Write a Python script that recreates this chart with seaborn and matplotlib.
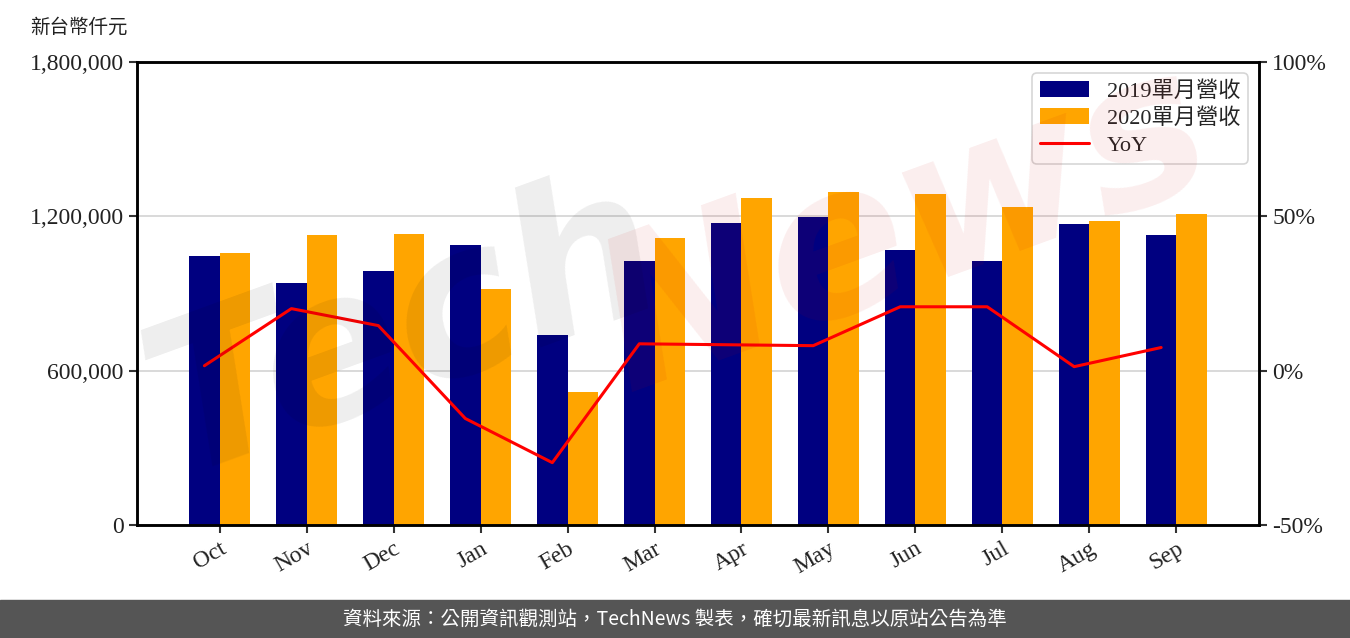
import numpy as np
import pandas as pd
import matplotlib
matplotlib.use("Agg")
import matplotlib.pyplot as plt
import matplotlib.ticker as mticker
import seaborn as sns

# Data
months = ["Oct", "Nov", "Dec", "Jan", "Feb", "Mar", "Apr", "May", "Jun", "Jul", "Aug", "Sep"]
rev_2019 = [1045800, 940800, 987500, 1088500, 738700, 1026300,
            1174100, 1197400, 1069100, 1026300, 1170200, 1127400]
rev_2020 = [1057000, 1127400, 1131300, 917500, 517100, 1115800,
            1271300, 1294600, 1286800, 1236300, 1181900, 1209100]
yoy = [1.6, 20.1, 14.6, -15.5, -29.8, 8.7, 8.4, 8.1, 20.7, 20.7, 1.3, 7.5]
series_labels = ["2019單月營收", "2020單月營收"]

sns.set_theme(style="white")
FONT = ["Liberation Serif", "Noto Sans CJK TC", "DejaVu Sans"]
plt.rcParams["font.family"] = FONT

df = pd.DataFrame({
    "month": months * 2,
    "revenue": rev_2019 + rev_2020,
    "series": [series_labels[0]] * 12 + [series_labels[1]] * 12,
})

fig = plt.figure(figsize=(13.5, 6.38), dpi=100)
ax = fig.add_axes([137 / 1350, 1 - 525 / 638, (1259 - 137) / 1350, (525 - 62) / 638])

sns.barplot(data=df, x="month", y="revenue", hue="series", order=months,
            palette=["#000080", "#FFA500"], width=0.7, saturation=1,
            edgecolor="none", ax=ax, zorder=2)
ax.set_xlim(-0.95, 11.95)
ax.set_ylim(0, 1800000)
ax.set_yticks([0, 600000, 1200000, 1800000])
ax.yaxis.set_major_formatter(mticker.FuncFormatter(lambda v, p: f"{int(v):,}"))
ax.grid(axis="y", color="#d3d3d3", linewidth=1.2, zorder=0)
ax.set_axisbelow(True)
ax.set_xlabel("")
ax.set_ylabel("")
ax.tick_params(axis="both", direction="out", length=6, width=1.5, color="#333333",
               labelsize=17, labelcolor="#222222", left=True, bottom=True)
for lab in ax.get_xticklabels():
    lab.set_rotation(30)
    lab.set_ha("right")
    lab.set_rotation_mode("anchor")
for sp in ax.spines.values():
    sp.set_color("black")
    sp.set_linewidth(1.8)

ax2 = ax.twinx()
x_line = np.arange(len(months)) - 0.175
sns.lineplot(x=x_line, y=yoy, color="red", linewidth=2.2, ax=ax2, label="YoY", legend=False)
ax2.set_ylim(-50, 100)
ax2.set_yticks([-50, 0, 50, 100])
ax2.yaxis.set_major_formatter(mticker.FuncFormatter(lambda v, p: f"{int(v)}%"))
ax2.tick_params(axis="y", direction="out", length=6, width=1.5, color="#333333",
                labelsize=17, labelcolor="#222222", right=True)
ax2.set_ylabel("")
for sp in ax2.spines.values():
    sp.set_color("black")
    sp.set_linewidth(1.8)

# Legend combining both axes
h1, l1 = ax.get_legend_handles_labels()
h2, l2 = ax2.get_legend_handles_labels()
if ax.get_legend() is not None:
    ax.get_legend().remove()
leg = ax2.legend(h1 + h2, l1 + l2, loc="upper right", fontsize=16, frameon=True,
                 fancybox=True, edgecolor="#cccccc", handlelength=2.2,
                 borderaxespad=0.5, labelspacing=0.3, borderpad=0.35)
leg.get_frame().set_linewidth(1.2)
for t in leg.get_texts():
    t.set_family(FONT)

# Unit label
fig.text(30 / 1350, 1 - 27 / 638, "新台幣仟元", fontsize=14, va="center", ha="left",
         family=["Noto Sans CJK TC"], color="#222222")

# Watermark
fig.text(0.30, 0.48, "Tech", fontsize=150, rotation=20, color="black", alpha=0.07,
         ha="center", va="center", style="italic", weight="bold", family=["DejaVu Sans"])
fig.text(0.67, 0.64, "News", fontsize=150, rotation=20, color="#d00000", alpha=0.07,
         ha="center", va="center", style="italic", weight="bold", family=["DejaVu Sans"])

# Footer band
fig.patches.append(plt.Rectangle((0, 0), 1, 38 / 638, transform=fig.transFigure,
                                 color="#555555", zorder=0))
fig.text(0.5, 19 / 638, "資料來源：公開資訊觀測站，TechNews 製表，確切最新訊息以原站公告為準",
         fontsize=14, color="white", ha="center", va="center",
         family=["Noto Sans CJK TC", "DejaVu Sans"])

fig.savefig("out.png", dpi=100, facecolor="white")
